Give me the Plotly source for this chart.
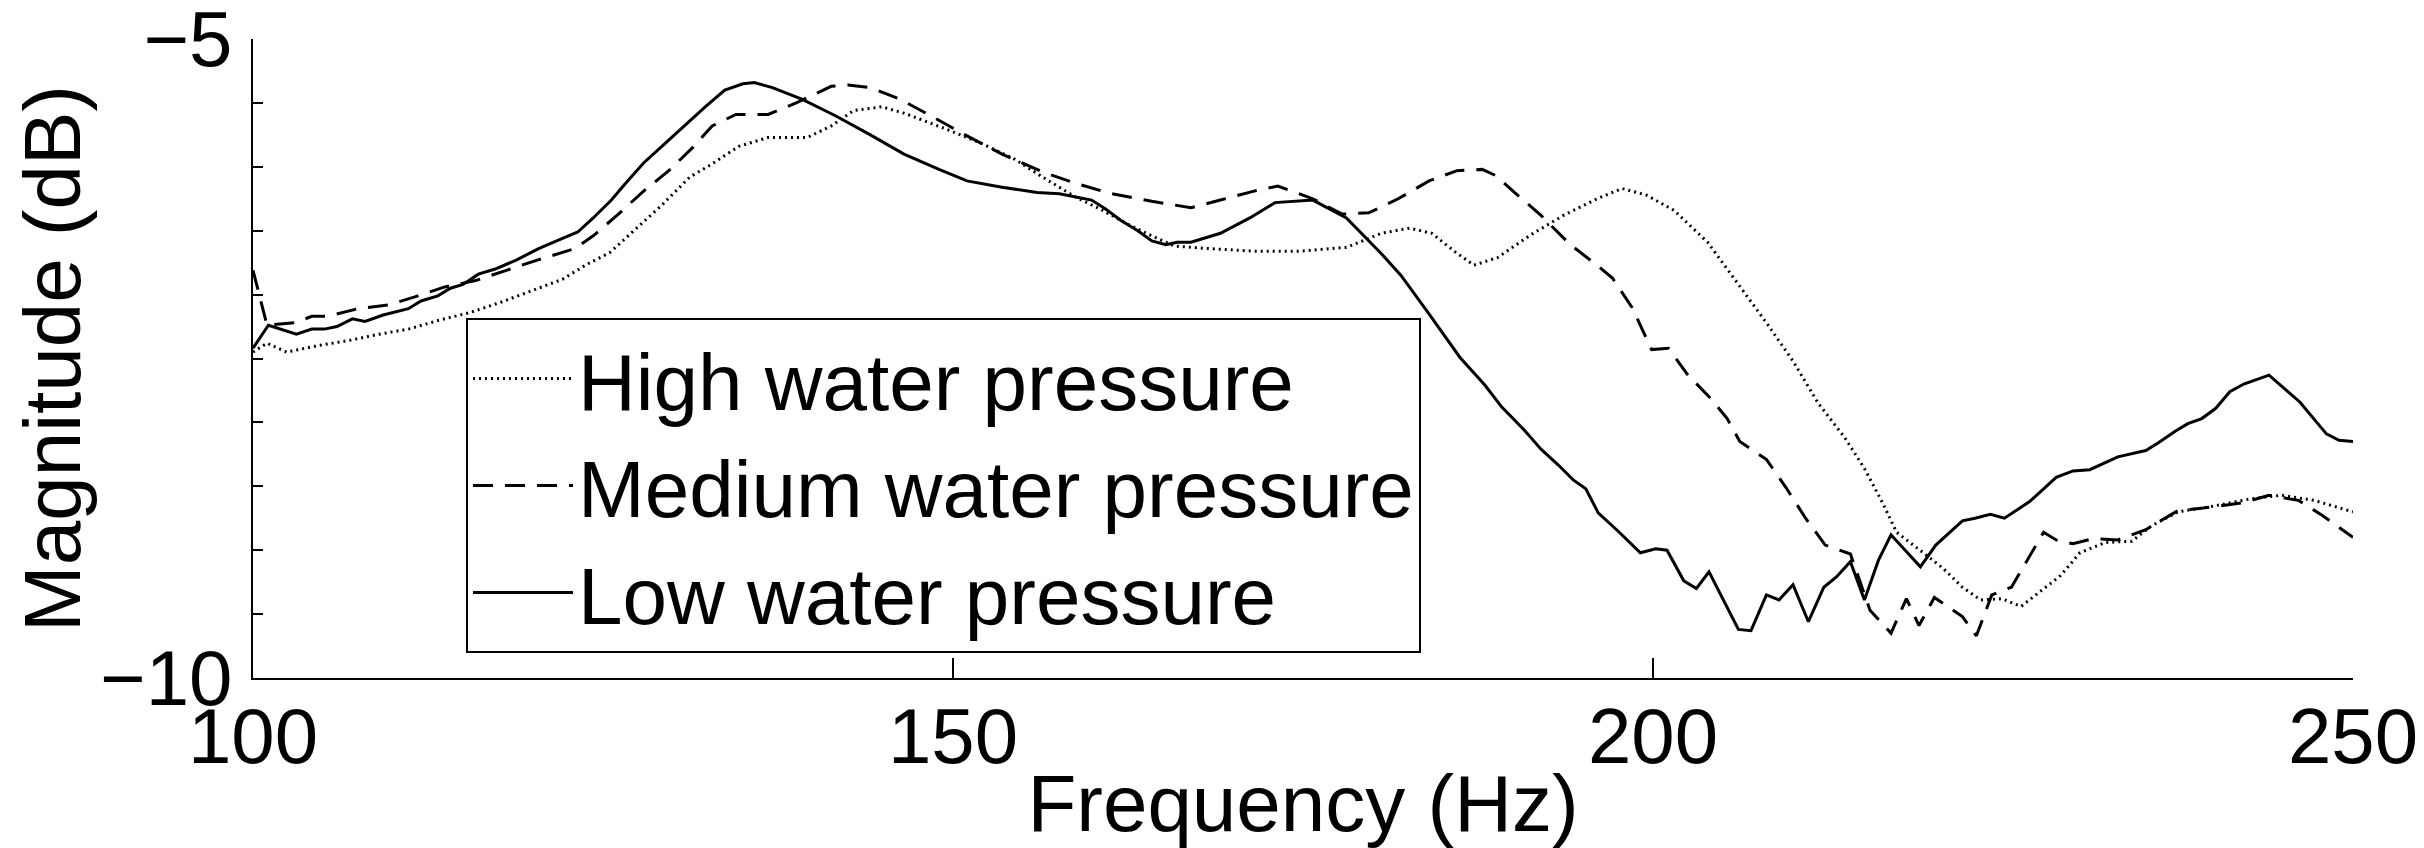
import plotly.graph_objects as go

# ---------------- data ----------------
high_f = [100.0, 101.0, 102.4, 104.6, 106.8, 109.0, 111.1, 113.3, 115.5, 117.7, 119.9, 122.1,
          123.9, 125.5, 127.5, 129.2, 131.2, 132.6, 134.7, 136.8, 139.6, 141.3, 142.9, 144.9,
          146.5, 149.4, 151.9, 154.4, 156.4, 158.8, 160.5, 162.5, 164.2, 165.8, 168.3, 171.5,
          174.8, 178.1, 180.6, 182.6, 184.2, 185.8, 187.2, 188.9, 191.3, 193.6, 196.0, 197.8,
          199.5, 201.5, 203.9, 205.7, 208.1, 210.0, 211.8, 213.7, 215.1, 216.4, 217.4, 219.3,
          220.7, 222.1, 223.4, 224.9, 226.3, 227.7, 229.1, 230.5, 232.3, 234.2, 235.6, 237.5,
          239.8, 242.6, 244.9, 247.2, 249.6, 250.0]
high_db = [-7.45, -7.38, -7.45, -7.40, -7.36, -7.31, -7.27, -7.20, -7.14, -7.06, -6.97, -6.88,
           -6.76, -6.67, -6.47, -6.30, -6.08, -5.99, -5.84, -5.77, -5.77, -5.68, -5.56, -5.53,
           -5.58, -5.70, -5.81, -5.94, -6.08, -6.24, -6.33, -6.45, -6.54, -6.62, -6.64, -6.66,
           -6.66, -6.63, -6.52, -6.48, -6.52, -6.66, -6.77, -6.71, -6.53, -6.38, -6.25, -6.17,
           -6.22, -6.34, -6.59, -6.86, -7.22, -7.52, -7.85, -8.12, -8.36, -8.63, -8.86, -9.02,
           -9.14, -9.29, -9.39, -9.38, -9.44, -9.32, -9.20, -9.02, -8.94, -8.93, -8.81, -8.70,
           -8.66, -8.60, -8.57, -8.61, -8.69, -8.70]

medium_f = [100.0, 101.0, 103.0, 104.2, 105.3, 107.5, 109.7, 111.5, 113.7, 115.9, 118.1, 120.3,
            123.0, 124.3, 126.1, 127.9, 129.7, 131.4, 132.8, 134.5, 136.8, 138.8, 141.3, 142.5,
            144.1, 146.2, 148.4, 150.7, 153.5, 156.4, 158.8, 161.3, 164.2, 167.0, 169.1, 171.5,
            173.2, 175.7, 177.8, 179.7, 181.8, 184.0, 186.0, 187.8, 188.8, 190.1, 192.0, 194.1,
            196.0, 197.1, 198.5, 199.9, 201.1, 202.5, 204.1, 205.3, 206.2, 208.1, 209.5, 210.9,
            212.3, 214.1, 215.5, 217.0, 218.1, 219.0, 220.1, 222.1, 223.1, 224.2, 225.6, 226.7,
            227.9, 228.8, 230.0, 231.4, 233.2, 235.2, 236.1, 237.5, 239.3, 242.1, 244.0, 246.1,
            247.7, 250.0]
medium_db = [-6.81, -7.24, -7.22, -7.17, -7.17, -7.11, -7.08, -7.02, -6.94, -6.89, -6.81, -6.73,
             -6.64, -6.54, -6.37, -6.19, -6.03, -5.85, -5.68, -5.59, -5.59, -5.50, -5.37, -5.36,
             -5.38, -5.47, -5.60, -5.74, -5.90, -6.04, -6.13, -6.21, -6.27, -6.32, -6.26, -6.19,
             -6.15, -6.25, -6.37, -6.36, -6.25, -6.11, -6.03, -6.02, -6.07, -6.20, -6.38, -6.61,
             -6.77, -6.87, -7.10, -7.43, -7.42, -7.63, -7.81, -7.97, -8.15, -8.29, -8.51, -8.75,
             -8.96, -9.03, -9.47, -9.65, -9.38, -9.59, -9.37, -9.52, -9.67, -9.35, -9.29, -9.08,
             -8.86, -8.92, -8.95, -8.91, -8.92, -8.84, -8.78, -8.69, -8.67, -8.63, -8.57, -8.61,
             -8.72, -8.90]

low_f = [100.0, 101.1, 103.1, 104.2, 105.1, 106.0, 107.1, 108.0, 109.3, 111.1, 112.0, 113.2,
         114.1, 115.0, 116.1, 117.3, 118.8, 120.4, 121.9, 123.2, 124.3, 125.6, 126.6, 127.9,
         129.4, 130.8, 132.3, 133.7, 135.0, 135.8, 137.1, 139.2, 141.6, 144.1, 146.5, 149.0,
         151.0, 153.5, 156.0, 157.6, 159.9, 160.9, 162.0, 163.2, 164.2, 165.2, 166.0, 167.0,
         169.1, 171.2, 173.0, 175.7, 178.1, 180.6, 182.0, 184.0, 186.2, 188.0, 189.2, 190.8,
         192.0, 193.2, 194.3, 195.2, 196.1, 197.4, 199.1, 200.2, 201.0, 202.2, 203.1, 204.0,
         206.1, 207.0, 208.1, 209.0, 210.0, 211.1, 212.2, 213.1, 214.1, 215.1, 216.1, 217.0,
         219.1, 220.2, 222.1, 223.0, 224.1, 225.1, 226.9, 228.8, 230.0, 231.2, 233.2, 235.2,
         236.1, 237.3, 238.2, 239.2, 240.2, 241.2, 242.2, 244.0, 246.2, 248.1, 249.0, 250.0]
low_db = [-7.42, -7.24, -7.31, -7.27, -7.27, -7.25, -7.19, -7.21, -7.16, -7.11, -7.05, -7.01,
          -6.95, -6.92, -6.84, -6.80, -6.73, -6.64, -6.57, -6.51, -6.40, -6.26, -6.13, -5.97,
          -5.82, -5.68, -5.53, -5.40, -5.35, -5.34, -5.38, -5.47, -5.60, -5.75, -5.90, -6.02,
          -6.11, -6.16, -6.20, -6.21, -6.26, -6.33, -6.42, -6.50, -6.58, -6.61, -6.59, -6.59,
          -6.52, -6.40, -6.28, -6.26, -6.40, -6.68, -6.85, -7.15, -7.49, -7.71, -7.88, -8.06,
          -8.21, -8.33, -8.45, -8.52, -8.71, -8.84, -9.02, -8.99, -9.00, -9.24, -9.30, -9.17,
          -9.62, -9.63, -9.35, -9.39, -9.27, -9.56, -9.29, -9.21, -9.09, -9.39, -9.08, -8.88,
          -9.13, -8.96, -8.77, -8.75, -8.72, -8.75, -8.62, -8.43, -8.38, -8.37, -8.27, -8.22,
          -8.16, -8.07, -8.01, -7.97, -7.89, -7.76, -7.70, -7.63, -7.84, -8.09, -8.14, -8.15]

series_names = ["High water pressure", "Medium water pressure", "Low water pressure"]
x_ticks = [100, 150, 200, 250]
y_ticks = [-10, -5]

# ---------------- figure ----------------
FONT = "Liberation Sans, Arial, Helvetica, sans-serif"

fig = go.Figure()
fig.add_trace(go.Scatter(x=high_f, y=high_db, mode="lines", name=series_names[0],
                         line=dict(color="black", width=3, dash="2px,4px")))
fig.add_trace(go.Scatter(x=medium_f, y=medium_db, mode="lines", name=series_names[1],
                         line=dict(color="black", width=3, dash="20px,12px")))
fig.add_trace(go.Scatter(x=low_f, y=low_db, mode="lines", name=series_names[2],
                         line=dict(color="black", width=3)))

# page body has an 8px default margin, so the figure is 8px smaller than the window
fig.update_layout(
    width=2416, height=840,
    margin=dict(l=245, r=71, t=31, b=170, autoexpand=False),
    paper_bgcolor="white", plot_bgcolor="white",
    font=dict(family=FONT, size=78, color="black"),
    showlegend=True,
    legend=dict(
        x=(466 - 253) / 2100, y=(678 - 318) / 639,
        xanchor="left", yanchor="top",
        bgcolor="white", bordercolor="black", borderwidth=2,
        font=dict(family=FONT, size=80, color="black"),
        traceorder="normal", itemwidth=100,
        tracegroupgap=0,
    ),
)

fig.update_xaxes(
    range=[100, 250], tickvals=x_ticks, ticktext=[str(v) for v in x_ticks],
    ticks="inside", ticklen=20, tickwidth=1.5, tickcolor="black",
    showline=True, linewidth=2, linecolor="black", mirror=False,
    showgrid=False, zeroline=False,
    tickfont=dict(family=FONT, size=78, color="black"),
    ticklabelstandoff=-11, ticklabeloverflow="allow",
    title=dict(text="Frequency (Hz)", font=dict(family=FONT, size=80, color="black"), standoff=0),
    automargin=False,
)
fig.update_yaxes(
    range=[-10.0005, -4.9995], tickvals=y_ticks,
    ticks="inside", ticklen=10, tickwidth=1.5, tickcolor="black",
    minor=dict(tick0=-10, dtick=0.5, ticks="inside", ticklen=10, tickwidth=1.5, tickcolor="black", showgrid=False),
    showline=True, linewidth=2, linecolor="black", mirror=False,
    showgrid=False, zeroline=False,
    tickfont=dict(family=FONT, size=78, color="black"),
    ticklabelstandoff=3, ticklabeloverflow="allow",
    title=dict(text="Magnitude (dB)", font=dict(family=FONT, size=80, color="black"), standoff=0),
    automargin=False,
)

fig.write_html("out.html")
